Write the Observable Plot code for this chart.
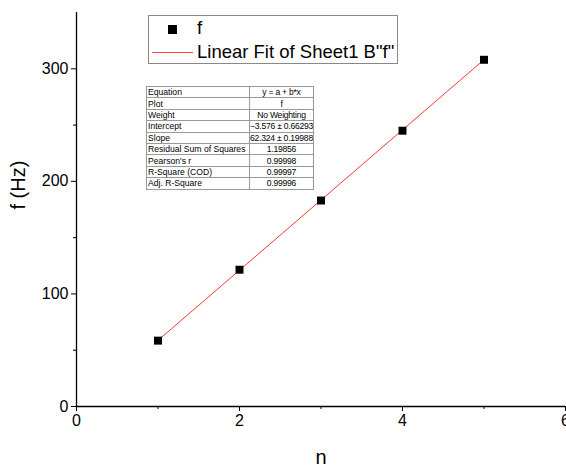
<!DOCTYPE html>
<html><head><meta charset="utf-8">
<script src="https://cdn.jsdelivr.net/npm/d3@7"></script>
<script src="https://cdn.jsdelivr.net/npm/@observablehq/plot@0.6"></script>
<style>
body{margin:0;background:#fff;font-family:"Liberation Sans",Arial,sans-serif;}
#wrap{position:relative;width:566px;height:466px;}
#legend{position:absolute;left:148px;top:15px;width:248px;height:47px;border:1px solid #888;background:#fff;font-size:18.5px;}
#fit{position:absolute;left:146px;top:86px;border-collapse:collapse;font-size:8.6px;background:#fff;table-layout:fixed;width:167px;}
#fit td{border:1px solid #999;padding:0 1px;height:10.4px;line-height:10px;white-space:nowrap;overflow:hidden;}
#fit td.v{text-align:center;width:63px;padding:0;letter-spacing:-0.25px;}
#fit td.k{width:100px;}
</style></head><body>
<div id="wrap"></div>
<script>
const n = [1, 2, 3, 4, 5];
const f = [58.5, 121.5, 183, 245, 308];
const intercept = -3.576, slope = 62.324;
const fitRows = [
  ["Equation", "y = a + b*x"],
  ["Plot", "f"],
  ["Weight", "No Weighting"],
  ["Intercept", "\u22123.576 \u00b1 0.66293"],
  ["Slope", "62.324 \u00b1 0.19988"],
  ["Residual Sum of Squares", "1.19856"],
  ["Pearson's r", "0.99998"],
  ["R-Square (COD)", "0.99997"],
  ["Adj. R-Square", "0.99996"]
];
const data = n.map((x, i) => ({n: x, f: f[i]}));
const fitLine = [n[0], n[n.length-1]].map(x => ({n: x, f: intercept + slope * x}));
const fmt = d3.format("d");

const chart = Plot.plot({
  width: 566, height: 466,
  marginLeft: 76, marginRight: 1, marginTop: 12, marginBottom: 60,
  style: {fontFamily: "Liberation Sans, Arial, sans-serif", fontSize: "16px", color: "#000", background: "#fff", overflow: "visible"},
  x: {domain: [0, 6], label: null},
  y: {domain: [0, 350], label: null},
  marks: [
    Plot.axisX({ticks: [0, 2, 4, 6], tickSize: 5, tickPadding: 3, fontSize: 16, tickFormat: fmt}),
    Plot.axisX({ticks: [1, 3, 5], tickSize: 3, tickFormat: () => ""}),
    Plot.axisY({ticks: [0, 100, 200, 300], tickSize: 5, tickPadding: 3, fontSize: 16, tickFormat: fmt}),
    Plot.axisY({ticks: [50, 150, 250], tickSize: 3, tickFormat: () => ""}),
    Plot.ruleY([0], {stroke: "#000", strokeWidth: 1.3}),
    Plot.ruleX([0], {stroke: "#000", strokeWidth: 1.3}),
    Plot.line(fitLine, {x: "n", y: "f", stroke: "#ff0000", strokeWidth: 0.8}),
    Plot.dot(data, {x: "n", y: "f", symbol: "square", r: 4.5, fill: "#000", stroke: "none"}),
    Plot.text(["n"], {frameAnchor: "bottom", dy: 57, fontSize: 20, text: d => d}),
    Plot.text(["f (Hz)"], {frameAnchor: "left", dx: -58, dy: 0, rotate: -90, fontSize: 20, text: d => d})
  ]
});
const wrap = document.getElementById("wrap");
wrap.appendChild(chart);

const leg = document.createElement("div");
leg.id = "legend";
leg.innerHTML = `<div style="position:absolute;left:19px;top:9px;width:9px;height:9px;background:#000"></div>
<div style="position:absolute;left:48px;top:1px;">f</div>
<div style="position:absolute;left:3px;top:36px;width:41px;height:0;border-top:1px solid #ff4040"></div>
<div style="position:absolute;left:48px;top:25px;">Linear Fit of Sheet1 B"f"</div>`;
wrap.appendChild(leg);

const tbl = document.createElement("table");
tbl.id = "fit";
tbl.innerHTML = fitRows.map(r => `<tr><td class="k">${r[0]}</td><td class="v">${r[1]}</td></tr>`).join("");
wrap.appendChild(tbl);
</script>
</body></html>
